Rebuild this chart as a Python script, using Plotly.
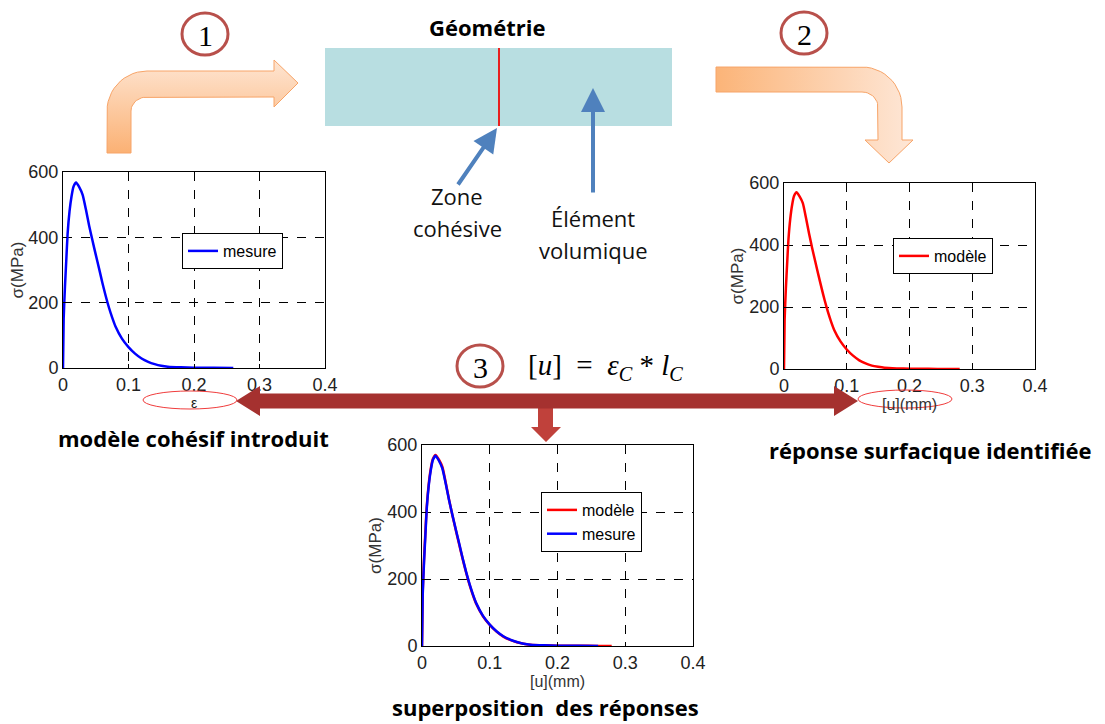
import numpy as np
import plotly.graph_objects as go

W, H = 1105, 724
OFF = 8  # page body margin in front of the figure

# strain / opening values and stresses
eps = [0, 0.001, 0.003, 0.005, 0.007, 0.010, 0.013, 0.016, 0.020, 0.025, 0.030, 0.035,
       0.040, 0.045, 0.050, 0.055, 0.060, 0.065, 0.070, 0.075, 0.080, 0.090, 0.100,
       0.110, 0.120, 0.130, 0.140, 0.150, 0.160, 0.180, 0.200, 0.230, 0.260]
sigma_mesure = [0, 150, 250, 330, 410, 480, 525, 555, 568, 553, 530, 485,
                435, 390, 347, 305, 262, 222, 186, 155, 128, 90, 64,
                44, 29, 19, 12, 7, 4, 2, 1, 0.5, 0]

u_modele = [0, 0.001, 0.003, 0.005, 0.007, 0.010, 0.013, 0.016, 0.020, 0.025, 0.030, 0.035,
            0.040, 0.045, 0.050, 0.055, 0.060, 0.065, 0.070, 0.075, 0.080, 0.090, 0.100,
            0.110, 0.120, 0.130, 0.140, 0.150, 0.160, 0.180, 0.200, 0.230, 0.260, 0.280]
sigma_modele = [0, 160, 260, 340, 415, 485, 530, 558, 570, 556, 535, 488,
                436, 389, 345, 302, 260, 220, 184, 153, 126, 89, 63,
                43, 28, 18, 11, 7, 4, 2, 1, 0.5, 0.3, 0]

x_ticks = [0, 0.1, 0.2, 0.3, 0.4]
x_tick_labels = ["0", "0.1", "0.2", "0.3", "0.4"]
y_ticks = [0, 200, 400, 600]
y_tick_labels = ["0", "200", "400", "600"]

FW, FH = W - OFF, H - OFF


def dom_x(x0, x1):
    return [(x0 - OFF) / FW, (x1 - OFF) / FW]


def dom_y(top, bottom):
    return [1 - (bottom - OFF) / FH, 1 - (top - OFF) / FH]


def arc(cx, cy, rx, ry, a0, a1, n=14):
    a = np.radians(np.linspace(a0, a1, n))
    return list(zip(cx + rx * np.cos(a), cy + ry * np.sin(a)))


def path(pts):
    return "M " + " L ".join(f"{x:.1f},{y:.1f}" for x, y in pts) + " Z"


tick_font = dict(family="Liberation Sans", size=18, color="#222222")
title_font = dict(family="Liberation Sans", size=16, color="#333333")

ax_x = dict(range=[0, 0.4], tickvals=x_ticks, ticktext=x_tick_labels,
            showgrid=True, gridcolor="black", griddash="dash", gridwidth=1,
            showline=True, linecolor="black", linewidth=1, mirror=True,
            ticks="inside", ticklen=4, tickcolor="black", zeroline=False,
            tickfont=tick_font, fixedrange=True, automargin=False)
ax_y = dict(range=[0, 600], tickvals=y_ticks, ticktext=y_tick_labels,
            showgrid=True, gridcolor="black", griddash="dash", gridwidth=1,
            showline=True, linecolor="black", linewidth=1, mirror=True,
            ticks="inside", ticklen=4, tickcolor="black", zeroline=False,
            tickfont=tick_font, fixedrange=True, automargin=False,
            title=dict(text="σ(MPa)", font=dict(title_font, size=17), standoff=1))

line_kw = dict(width=2.5, shape="spline", smoothing=0.5)

fig = go.Figure()

fig.add_trace(go.Scatter(x=eps, y=sigma_mesure, mode="lines", name="mesure",
                         line=dict(line_kw, color="#0000FF"),
                         xaxis="x", yaxis="y", legend="legend"))
fig.add_trace(go.Scatter(x=u_modele, y=sigma_modele, mode="lines", name="modèle",
                         line=dict(line_kw, color="#FF0000"),
                         xaxis="x2", yaxis="y2", legend="legend2"))
fig.add_trace(go.Scatter(x=u_modele, y=sigma_modele, mode="lines", name="modèle",
                         line=dict(line_kw, color="#FF0000"),
                         xaxis="x3", yaxis="y3", legend="legend3"))
fig.add_trace(go.Scatter(x=eps, y=sigma_mesure, mode="lines", name="mesure",
                         line=dict(line_kw, color="#0000FF"),
                         xaxis="x3", yaxis="y3", legend="legend3"))

# orange bent arrows (diagram decoration, pixel space overlay)
arrow1 = ([(107, 153)] + arc(147, 111, 40, 40, 180, 270)
          + [(274, 71), (274, 60), (298, 83), (274, 107), (274, 97)]
          + arc(147, 111, 16, 14, 270, 180) + [(131, 153)])
arrow2 = ([(716, 67)] + arc(862, 107, 40, 40, 270, 360)
          + [(902, 140), (913, 140), (889, 163), (865, 140), (878, 140)]
          + arc(862, 107, 16, 15, 360, 270) + [(716, 92)])
for pts, grad in [(arrow1, dict(type="vertical", start=60, stop=153,
                                colorscale=[[0, "#FEE5D2"], [1, "#FBB174"]])),
                  (arrow2, dict(type="horizontal", start=716, stop=913,
                                colorscale=[[0, "#FBB478"], [1, "#FEE7D7"]]))]:
    xs = [p[0] for p in pts] + [pts[0][0]]
    ys = [p[1] for p in pts] + [pts[0][1]]
    fig.add_trace(go.Scatter(x=xs, y=ys, mode="lines", fill="toself",
                             fillgradient=grad, line=dict(color="#F7A468", width=1),
                             xaxis="x4", yaxis="y4", showlegend=False, hoverinfo="skip"))

leg = dict(bordercolor="black", borderwidth=1, bgcolor="white",
           font=dict(family="Liberation Sans", size=16, color="black"),
           itemwidth=30, tracegroupgap=0, xanchor="left", yanchor="top",
           xref="paper", yref="paper")

fig.update_layout(
    width=FW, height=FH, margin=dict(l=0, r=0, t=0, b=0, autoexpand=False),
    paper_bgcolor="white", plot_bgcolor="rgba(0,0,0,0)",
    xaxis=dict(ax_x, domain=dom_x(63, 325), anchor="y",
               title=dict(text="ε", font=dict(family="Liberation Sans", size=14, color="#222"), standoff=0)),
    yaxis=dict(ax_y, domain=dom_y(172, 368), anchor="x"),
    xaxis2=dict(ax_x, domain=dom_x(784, 1035), anchor="y2",
                title=dict(text="[u](mm)", font=title_font, standoff=0)),
    yaxis2=dict(ax_y, domain=dom_y(183, 369), anchor="x2"),
    xaxis3=dict(ax_x, domain=dom_x(422, 693), anchor="y3",
                title=dict(text="[u](mm)", font=title_font, standoff=0)),
    yaxis3=dict(ax_y, domain=dom_y(445, 646), anchor="x3"),
    xaxis4=dict(domain=[0, 1], range=[OFF, W], visible=False, anchor="y4",
                fixedrange=True, automargin=False),
    yaxis4=dict(domain=[0, 1], range=[H, OFF], visible=False, anchor="x4",
                fixedrange=True, automargin=False),
    legend=dict(leg, x=(182 - OFF) / FW, y=1 - (233 - OFF) / FH),
    legend2=dict(leg, x=(893 - OFF) / FW, y=1 - (238 - OFF) / FH),
    legend3=dict(leg, x=(541 - OFF) / FW, y=1 - (492 - OFF) / FH),
    showlegend=True,
)

# geometry block
fig.add_shape(type="rect", xref="x4", yref="y4", x0=325, x1=672, y0=48, y1=126,
              fillcolor="#B8DEE1", line=dict(width=0), layer="above")
fig.add_shape(type="line", xref="x4", yref="y4", x0=499, x1=499, y0=48, y1=126,
              line=dict(color="#E8201E", width=2), layer="above")

# red double arrow and down arrow
down = [(538, 408), (553, 408), (553, 427), (561, 427), (546, 442), (531, 427), (538, 427)]
fig.add_shape(type="path", xref="x4", yref="y4", path=path(down),
              fillcolor="#C0413B", line=dict(width=0), layer="above")
cy = 401
horiz = [(236, cy), (260, cy - 15), (260, cy - 7.5), (834, cy - 7.5), (834, cy - 15),
         (858, cy), (834, cy + 15), (834, cy + 7.5), (260, cy + 7.5), (260, cy + 15)]
fig.add_shape(type="path", xref="x4", yref="y4", path=path(horiz),
              fillcolor="#A5312F", line=dict(width=0), layer="above")

# red ellipses around the x labels
for x0, x1, y0, y1 in [(143, 237, 391, 409), (858, 952, 390, 408)]:
    fig.add_shape(type="circle", xref="x4", yref="y4", x0=x0, x1=x1, y0=y0, y1=y1,
                  line=dict(color="#F03C3C", width=1), layer="above")

# numbered circles
for cx, cyy, num in [(205, 34, "1"), (804, 33, "2"), (480, 366, "3")]:
    fig.add_shape(type="circle", xref="x4", yref="y4", x0=cx - 23, x1=cx + 23,
                  y0=cyy - 21, y1=cyy + 21, fillcolor="white",
                  line=dict(color="#B8504B", width=3), layer="above")
    fig.add_annotation(x=cx, y=cyy + 1, xref="x4", yref="y4", text=num, showarrow=False,
                       font=dict(family="Liberation Serif", size=30, color="black"))

# blue pointer arrows
for tip, tail in [((497, 128), (457, 186)), ((593, 88), (593, 194))]:
    fig.add_annotation(x=tip[0], y=tip[1], xref="x4", yref="y4", ax=tail[0] - tip[0],
                       ay=tail[1] - tip[1], text="", showarrow=True, arrowhead=2,
                       arrowsize=1.2, arrowwidth=4, arrowcolor="#4F81BD")

label_font = dict(family="Open Sans", size=22, color="#111111")
bold_font = dict(family="Open Sans", size=22, color="black")
texts = [
    (487, 27, "<b>Géométrie</b>", bold_font),
    (457, 196, "Zone", label_font),
    (457, 228, "cohésive", label_font),
    (593, 218, "Élément", label_font),
    (593, 250, "volumique", label_font),
    (193, 438, "<b>modèle cohésif introduit</b>", bold_font),
    (930, 450, "<b>réponse surfacique identifiée</b>", bold_font),
    (545, 707, "<b>superposition  des réponses</b>", bold_font),
    (605, 367, "[<i>u</i>]&nbsp;&nbsp;=&nbsp;&nbsp;<i>ε</i><sub><i>C</i></sub>&nbsp;*&nbsp;<i>l</i><sub><i>C</i></sub>",
     dict(family="Liberation Serif", size=29, color="black")),
]
for x, y, t, f in texts:
    fig.add_annotation(x=x, y=y, xref="x4", yref="y4", text=t, showarrow=False, font=f)

fig.write_html("out.html")
